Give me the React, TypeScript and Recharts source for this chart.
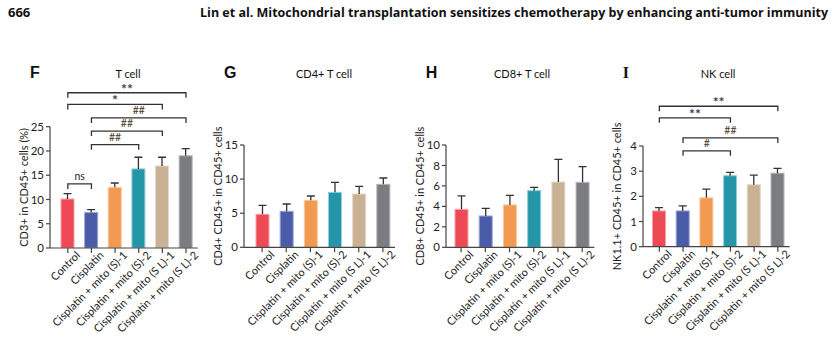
import React from "react"
import { BarChart, Bar, XAxis, YAxis, ReferenceLine, Cell } from "recharts"

const categories = [
  "Control",
  "Cisplatin",
  "Cisplatin + mito (S)-1",
  "Cisplatin + mito (S)-2",
  "Cisplatin + mito (S L)-1",
  "Cisplatin + mito (S L)-2",
]
const barColors = ["#EE4A55", "#4A5BA8", "#F39A52", "#2596A7", "#C8B194", "#7C7D81"]
const edgeColors = ["#F7A0A6", "#98A4D6", "#F9C79C", "#8FD0DA", "#E6D8C6", "#B4B5B8"]

// means and upper SEM
const tCell = [10.1, 7.3, 12.5, 16.3, 16.9, 19.0]
const tCellErr = [1.1, 0.6, 0.9, 2.4, 1.8, 1.5]
const cd4 = [4.84, 5.28, 6.89, 8.06, 7.82, 9.23]
const cd4Err = [1.32, 1.07, 0.63, 1.47, 1.12, 0.93]
const cd8 = [3.71, 3.06, 4.14, 5.54, 6.38, 6.35]
const cd8Err = [1.31, 0.75, 0.94, 0.32, 2.22, 1.53]
const nk = [1.42, 1.42, 1.94, 2.82, 2.46, 2.92]
const nkErr = [0.13, 0.2, 0.35, 0.13, 0.38, 0.19]

const tTicks = [0, 5, 10, 15, 20, 25]
const cd4Ticks = [0, 5, 10, 15]
const cd8Ticks = [0, 2, 4, 6, 8, 10]
const nkTicks = [0, 1, 2, 3, 4]

// significance brackets: from, to, label, height (data units)
const tBrackets: [number, number, string, number][] = [
  [0, 5, "**", 32.0],
  [0, 4, "*", 29.6],
  [1, 5, "##", 26.8],
  [1, 4, "##", 24.1],
  [1, 3, "##", 21.3],
  [0, 1, "ns", 13.2],
]
const nkBrackets: [number, number, string, number][] = [
  [0, 5, "**", 5.58],
  [0, 3, "**", 5.12],
  [1, 5, "##", 4.32],
  [1, 3, "#", 3.81],
]

const FONT = "Lato, 'Open Sans', sans-serif"
const AXIS = "#444"

const makeRows = (vals: number[], errs: number[]) =>
  categories.map((name, i) => ({ name, value: vals[i], err: errs[i] }))

const BarWithError = (props: any) => {
  const { x, y, width, height, value, payload, index } = props
  const k = value ? height / value : 0
  const top = y - payload.err * k
  const cx = x + width / 2
  return (
    <g>
      <rect x={x} y={y} width={width} height={height} fill={barColors[index]} stroke={edgeColors[index]} strokeWidth={1} />
      <line x1={cx} y1={y} x2={cx} y2={top} stroke="#333" strokeWidth={1.3} />
      <line x1={cx - 4} y1={top} x2={cx + 4} y2={top} stroke="#333" strokeWidth={1.3} />
    </g>
  )
}

const RotTick = (props: any) => {
  const { x, y, payload } = props
  const ax = x + 13
  const ay = y + 1
  return (
    <text x={ax} y={ay} transform={`rotate(-45 ${ax} ${ay})`} textAnchor="end" fontSize={11} fill="#222" fontFamily={FONT}>
      {payload.value}
    </text>
  )
}

const bracketShape = (label: string) => (p: any) => {
  const stars = label.includes("*")
  return (
    <g>
      <path d={`M${p.x1},${p.y1 + 5} V${p.y1} H${p.x2} V${p.y2 + 5}`} fill="none" stroke="#333" strokeWidth={1.3} />
      <text
        x={(p.x1 + p.x2) / 2}
        y={stars ? p.y1 + 1 : p.y1 - 4}
        textAnchor="middle"
        fontSize={stars ? 14 : 10.5}
        fontWeight={stars ? 700 : 400}
        fill={label === "ns" ? "#222" : stars ? "#3A3F5C" : "#4A3A28"}
        fontFamily={FONT}
      >
        {label}
      </text>
    </g>
  )
}

type PanelProps = {
  letter: string
  letterFont?: string
  title: string
  titleX: number
  yLabel: string
  axisX: number
  plotTop: number
  plotBottom: number
  plotRight: number
  padLeft: number
  vals: number[]
  errs: number[]
  ticks: number[]
  brackets?: [number, number, string, number][]
}

const SVG_TOP = 60
const Y_W = 52
const X_H = 100
const SVG_H = 291

function Panel(p: PanelProps) {
  const left = p.axisX - Y_W
  const width = p.plotRight - left + 4
  const data = makeRows(p.vals, p.errs)
  const top = p.ticks[p.ticks.length - 1]
  return (
    <>
      <div style={{ position: "absolute", left: p.axisX - 20, top: 64, fontSize: 16, fontWeight: 700, fontFamily: p.letterFont || "'Liberation Sans', Arial, sans-serif", color: "#111" }}>
        {p.letter}
      </div>
      <div style={{ position: "absolute", left: p.titleX - 60, width: 120, textAlign: "center", top: 67, fontSize: 11, fontFamily: FONT, color: "#111" }}>
        {p.title}
      </div>
      <div style={{ position: "absolute", left, top: SVG_TOP }}>
        <BarChart
          width={width}
          height={SVG_H}
          data={data}
          margin={{ top: p.plotTop - SVG_TOP, right: 4, left: 0, bottom: SVG_H - X_H - (p.plotBottom - SVG_TOP) }}
          barCategoryGap={0}
        >
          <XAxis
            dataKey="name"
            interval={0}
            height={X_H}
            padding={{ left: p.padLeft, right: 0 }}
            stroke={AXIS}
            strokeWidth={1.2}
            tickSize={5}
            tick={<RotTick />}
          />
          <YAxis
            width={Y_W}
            domain={[0, top]}
            ticks={p.ticks}
            allowDataOverflow
            stroke={AXIS}
            strokeWidth={1.2}
            tickSize={4}
            tick={{ fontSize: 11.5, fill: "#222", fontFamily: FONT }}
            label={{ value: p.yLabel, angle: -90, position: "center", fontSize: 11, fill: "#222", fontFamily: FONT }}
          />
          <Bar dataKey="value" barSize={13} isAnimationActive={false} shape={<BarWithError />}>
            {data.map((d, i) => (
              <Cell key={d.name} fill={barColors[i]} />
            ))}
          </Bar>
          {(p.brackets || []).map(([a, b, label, h], i) => (
            <ReferenceLine
              key={i}
              ifOverflow="visible"
              segment={[
                { x: categories[a], y: h },
                { x: categories[b], y: h },
              ]}
              shape={bracketShape(label)}
            />
          ))}
        </BarChart>
      </div>
    </>
  )
}

export default function App() {
  return (
    <div style={{ position: "absolute", left: 0, top: 0, width: 838, height: 351, background: "#fff", overflow: "hidden" }}>
      <svg width={838} height={30} style={{ position: "absolute", left: 0, top: 0 }}>
        <text x={8} y={17} fontSize={13} fontWeight={700} fontFamily="'Open Sans', sans-serif" fill="#111">666</text>
        <text x={200} y={17} fontSize={12.5} fontWeight={700} fontFamily="'Open Sans', sans-serif" fill="#111" textLength={628} lengthAdjust="spacingAndGlyphs">
          Lin et al. Mitochondrial transplantation sensitizes chemotherapy by enhancing anti-tumor immunity
        </text>
      </svg>
      <Panel letter="F" title="T cell" titleX={128} yLabel="CD3+ in CD45+ cells (%)" axisX={50} plotTop={126.7} plotBottom={248} plotRight={197.8} padLeft={6} vals={tCell} errs={tCellErr} ticks={tTicks} brackets={tBrackets} />
      <Panel letter="G" title="CD4+ T cell" titleX={324} yLabel="CD4+ CD45+ in CD45+ cells" axisX={244} plotTop={145} plotBottom={247.3} plotRight={395} padLeft={6} vals={cd4} errs={cd4Err} ticks={cd4Ticks} />
      <Panel letter="H" title="CD8+ T cell" titleX={522} yLabel="CD8+ CD45+ in CD45+ cells" axisX={445.7} plotTop={145} plotBottom={247.3} plotRight={594} padLeft={3} vals={cd8} errs={cd8Err} ticks={cd8Ticks} />
      <Panel letter="I" letterFont="'Liberation Serif', serif" title="NK cell" titleX={718} yLabel="NK1.1+ CD45+ in CD45+ cells" axisX={642.7} plotTop={146} plotBottom={246.7} plotRight={789.4} padLeft={4.5} vals={nk} errs={nkErr} ticks={nkTicks} brackets={nkBrackets} />
    </div>
  )
}
